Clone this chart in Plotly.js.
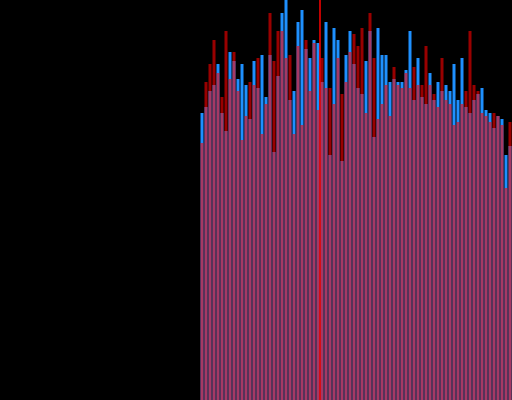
<!DOCTYPE html>
<html>
<head>
<meta charset="utf-8">
<script src="https://cdn.plot.ly/plotly-3.0.1.min.js"></script>
<style>html,body{margin:0;padding:0;background:#000;}#chart{width:512px;height:400px;}</style>
</head>
<body>
<div id="chart"></div>
<script>
// bar index (0..77)
const idx = Array.from({length: 78}, (_, i) => i);
// blue series values
const blueVals = [287,293,309,315,336,287,269,348,339,321,
  336,315,281,339,312,345,303,345,248,324,
  387,400,300,309,378,390,351,342,360,357,
  318,378,245,372,360,239,345,369,336,312,
  306,339,369,263,372,345,345,318,321,318,
  318,330,369,300,342,303,296,327,300,318,
  309,315,309,336,300,342,293,287,300,306,
  312,290,287,272,284,281,245,254];
// red series values
const redVals = [257,318,336,360,327,303,369,321,348,309,
  260,284,318,315,342,266,296,387,339,369,
  369,342,345,266,354,275,360,309,357,290,
  342,312,312,296,342,306,318,348,366,354,
  372,287,387,342,281,296,315,284,333,315,
  312,327,312,333,315,315,354,315,306,293,
  342,300,296,275,278,296,309,369,315,309,
  287,284,278,287,284,275,212,278];
const markerX = 29.5;

const data = [
  {type: 'bar', x: idx, y: blueVals, marker: {color: '#1e90ff', line: {width: 0}}, hoverinfo: 'none'},
  {type: 'bar', x: idx, y: redVals, marker: {color: '#ff0000', line: {width: 0}}, opacity: 0.6, hoverinfo: 'none'}
];
const layout = {
  width: 512, height: 400,
  margin: {l: 0, r: 0, t: 0, b: 0, pad: 0},
  paper_bgcolor: '#000', plot_bgcolor: '#000',
  barmode: 'overlay', bargap: 0.25,
  showlegend: false,
  xaxis: {visible: false, range: [-50.5, 77.5]},
  yaxis: {visible: false, range: [0, 400]},
  shapes: [{type: 'line', xref: 'x', yref: 'paper', x0: markerX, x1: markerX, y0: 0, y1: 1,
    line: {color: '#ff0000', width: 1.5}, layer: 'above'}]
};
Plotly.newPlot('chart', data, layout, {staticPlot: true, displayModeBar: false});
</script>
</body>
</html>
